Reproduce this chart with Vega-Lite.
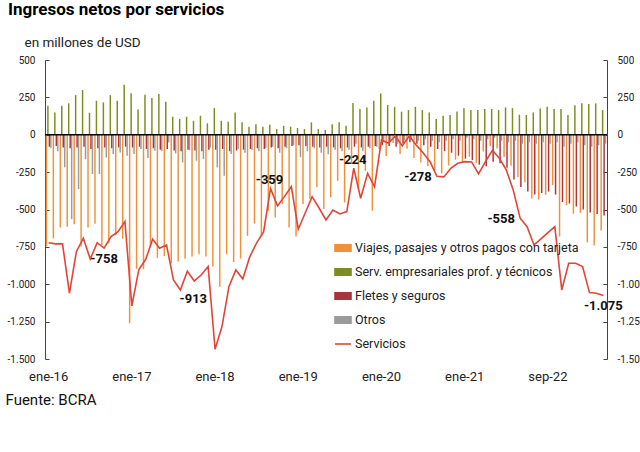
{
 "$schema": "https://vega.github.io/schema/vega-lite/v6.json",
 "width": 562, "height": 299,
 "autosize": {"type": "none"},
 "padding": {"left": 45, "top": 60, "right": 33, "bottom": 93},
 "background": "white",
 "title": {"text": "Ingresos netos por servicios", "anchor": "start", "frame": "group", "dx": -37, "fontSize": 17, "font": "Roboto", "fontWeight": "bold", "color": "#000", "offset": 16},
 "config": {
  "locale": {"number": {"decimal": ",", "thousands": ".", "grouping": [3], "currency": ["$", ""], "minus": "-"}},
  "view": {"stroke": null},
  "font": "Roboto",
  "axisX": {"domain": false, "ticks": false, "labelAngle": 0, "labelBaseline": "top", "labelAlign": "center", "labelFont": "Roboto", "labelFontSize": 13, "labelColor": "#222", "labelPadding": 11,
    "titleX": -40, "titleY": 45, "titleAlign": "left", "titleAnchor": "start", "titleBaseline": "alphabetic",
    "titleFont": "Roboto", "titleFontSize": 15, "titleFontWeight": "normal", "titleColor": "#111"}
 },
 "datasets": {"d": [
  {"mes":"ene-16","viajes":-746,"serv":194,"fletes":-80,"otros":-90,"servicios":-722},
  {"mes":"feb-16","viajes":-694,"serv":149,"fletes":-75,"otros":-110,"servicios":-730},
  {"mes":"mar-16","viajes":-621,"serv":194,"fletes":-85,"otros":-218,"servicios":-730},
  {"mes":"abr-16","viajes":-616,"serv":210,"fletes":-90,"otros":-564,"servicios":-1060},
  {"mes":"may-16","viajes":-599,"serv":265,"fletes":-85,"otros":-363,"servicios":-782},
  {"mes":"jun-16","viajes":-748,"serv":299,"fletes":-80,"otros":-163,"servicios":-692},
  {"mes":"jul-16","viajes":-620,"serv":147,"fletes":-95,"otros":-263,"servicios":-831},
  {"mes":"ago-16","viajes":-596,"serv":227,"fletes":-90,"otros":-263,"servicios":-722},
  {"mes":"sep-16","viajes":-737,"serv":216,"fletes":-85,"otros":-152,"servicios":-758},
  {"mes":"oct-16","viajes":-727,"serv":265,"fletes":-90,"otros":-129,"servicios":-681},
  {"mes":"nov-16","viajes":-672,"serv":227,"fletes":-85,"otros":-118,"servicios":-648},
  {"mes":"dic-16","viajes":-696,"serv":335,"fletes":-80,"otros":-140,"servicios":-581},
  {"mes":"ene-17","viajes":-1260,"serv":277,"fletes":-85,"otros":-129,"servicios":-1145},
  {"mes":"feb-17","viajes":-897,"serv":169,"fletes":-80,"otros":-96,"servicios":-904},
  {"mes":"mar-17","viajes":-900,"serv":268,"fletes":-95,"otros":-156,"servicios":-833},
  {"mes":"abr-17","viajes":-747,"serv":245,"fletes":-90,"otros":-107,"servicios":-699},
  {"mes":"may-17","viajes":-824,"serv":272,"fletes":-100,"otros":-107,"servicios":-759},
  {"mes":"jun-17","viajes":-812,"serv":221,"fletes":-95,"otros":-51,"servicios":-737},
  {"mes":"jul-17","viajes":-861,"serv":120,"fletes":-105,"otros":-125,"servicios":-971},
  {"mes":"ago-17","viajes":-848,"serv":105,"fletes":-110,"otros":-185,"servicios":-1038},
  {"mes":"sep-17","viajes":-830,"serv":120,"fletes":-100,"otros":-103,"servicios":-913},
  {"mes":"oct-17","viajes":-815,"serv":94,"fletes":-105,"otros":-174,"servicios":-978},
  {"mes":"nov-17","viajes":-800,"serv":127,"fletes":-110,"otros":-163,"servicios":-938},
  {"mes":"dic-17","viajes":-815,"serv":76,"fletes":-100,"otros":-85,"servicios":-882},
  {"mes":"ene-18","viajes":-882,"serv":178,"fletes":-100,"otros":-218,"servicios":-1435},
  {"mes":"feb-18","viajes":-1016,"serv":94,"fletes":-95,"otros":-274,"servicios":-1283},
  {"mes":"mar-18","viajes":-800,"serv":87,"fletes":-110,"otros":-129,"servicios":-1016},
  {"mes":"abr-18","viajes":-852,"serv":149,"fletes":-105,"otros":-96,"servicios":-904},
  {"mes":"may-18","viajes":-828,"serv":83,"fletes":-100,"otros":-120,"servicios":-965},
  {"mes":"jun-18","viajes":-676,"serv":54,"fletes":-95,"otros":-100,"servicios":-817},
  {"mes":"jul-18","viajes":-594,"serv":71,"fletes":-90,"otros":-110,"servicios":-723},
  {"mes":"ago-18","viajes":-680,"serv":54,"fletes":-95,"otros":-90,"servicios":-650},
  {"mes":"sep-18","viajes":-508,"serv":67,"fletes":-85,"otros":-80,"servicios":-359},
  {"mes":"oct-18","viajes":-553,"serv":38,"fletes":-90,"otros":-120,"servicios":-476},
  {"mes":"nov-18","viajes":-464,"serv":60,"fletes":-80,"otros":-90,"servicios":-414},
  {"mes":"dic-18","viajes":-620,"serv":54,"fletes":-75,"otros":-70,"servicios":-347},
  {"mes":"ene-19","viajes":-680,"serv":45,"fletes":-70,"otros":-150,"servicios":-632},
  {"mes":"feb-19","viajes":-464,"serv":38,"fletes":-75,"otros":-110,"servicios":-523},
  {"mes":"mar-19","viajes":-430,"serv":83,"fletes":-80,"otros":-90,"servicios":-414},
  {"mes":"abr-19","viajes":-352,"serv":38,"fletes":-85,"otros":-120,"servicios":-490},
  {"mes":"may-19","viajes":-497,"serv":31,"fletes":-80,"otros":-130,"servicios":-570},
  {"mes":"jun-19","viajes":-419,"serv":71,"fletes":-85,"otros":-100,"servicios":-503},
  {"mes":"jul-19","viajes":-308,"serv":83,"fletes":-90,"otros":-110,"servicios":-530},
  {"mes":"ago-19","viajes":-453,"serv":60,"fletes":-85,"otros":-100,"servicios":-514},
  {"mes":"sep-19","viajes":-196,"serv":212,"fletes":-80,"otros":-60,"servicios":-224},
  {"mes":"oct-19","viajes":-363,"serv":172,"fletes":-85,"otros":-110,"servicios":-425},
  {"mes":"nov-19","viajes":-241,"serv":183,"fletes":-80,"otros":-90,"servicios":-258},
  {"mes":"dic-19","viajes":-508,"serv":227,"fletes":-75,"otros":-80,"servicios":-347},
  {"mes":"ene-20","viajes":-96,"serv":276,"fletes":-70,"otros":-50,"servicios":-35},
  {"mes":"feb-20","viajes":-142,"serv":200,"fletes":-75,"otros":-40,"servicios":-57},
  {"mes":"mar-20","viajes":-55,"serv":187,"fletes":-80,"otros":-60,"servicios":-8},
  {"mes":"abr-20","viajes":-129,"serv":154,"fletes":-60,"otros":-40,"servicios":-75},
  {"mes":"may-20","viajes":-93,"serv":165,"fletes":-50,"otros":-30,"servicios":-8},
  {"mes":"jun-20","viajes":-155,"serv":187,"fletes":-60,"otros":-40,"servicios":-68},
  {"mes":"jul-20","viajes":-185,"serv":165,"fletes":-70,"otros":-30,"servicios":-120},
  {"mes":"ago-20","viajes":-209,"serv":149,"fletes":-80,"otros":-40,"servicios":-180},
  {"mes":"sep-20","viajes":-238,"serv":105,"fletes":-95,"otros":-50,"servicios":-278},
  {"mes":"oct-20","viajes":-259,"serv":127,"fletes":-110,"otros":-40,"servicios":-282},
  {"mes":"nov-20","viajes":-206,"serv":132,"fletes":-120,"otros":-30,"servicios":-224},
  {"mes":"dic-20","viajes":-167,"serv":156,"fletes":-140,"otros":-40,"servicios":-191},
  {"mes":"ene-21","viajes":-178,"serv":178,"fletes":-160,"otros":-20,"servicios":-180},
  {"mes":"feb-21","viajes":-147,"serv":165,"fletes":-170,"otros":-30,"servicios":-182},
  {"mes":"mar-21","viajes":-187,"serv":165,"fletes":-200,"otros":-40,"servicios":-262},
  {"mes":"abr-21","viajes":-112,"serv":172,"fletes":-210,"otros":-30,"servicios":-180},
  {"mes":"may-21","viajes":-76,"serv":172,"fletes":-180,"otros":-20,"servicios":-104},
  {"mes":"jun-21","viajes":-92,"serv":165,"fletes":-190,"otros":-40,"servicios":-157},
  {"mes":"jul-21","viajes":-148,"serv":183,"fletes":-220,"otros":-50,"servicios":-235},
  {"mes":"ago-21","viajes":-207,"serv":178,"fletes":-300,"otros":-40,"servicios":-369},
  {"mes":"sep-21","viajes":-282,"serv":134,"fletes":-350,"otros":-60,"servicios":-558},
  {"mes":"oct-21","viajes":-317,"serv":132,"fletes":-380,"otros":-50,"servicios":-615},
  {"mes":"nov-21","viajes":-426,"serv":149,"fletes":-400,"otros":-60,"servicios":-737},
  {"mes":"dic-21","viajes":-433,"serv":176,"fletes":-390,"otros":-50,"servicios":-697},
  {"mes":"ene-22","viajes":-402,"serv":187,"fletes":-380,"otros":-60,"servicios":-655},
  {"mes":"feb-22","viajes":-337,"serv":172,"fletes":-400,"otros":-50,"servicios":-615},
  {"mes":"mar-22","viajes":-680,"serv":172,"fletes":-450,"otros":-80,"servicios":-1038},
  {"mes":"abr-22","viajes":-472,"serv":132,"fletes":-460,"otros":-60,"servicios":-860},
  {"mes":"may-22","viajes":-528,"serv":198,"fletes":-480,"otros":-50,"servicios":-860},
  {"mes":"jun-22","viajes":-522,"serv":210,"fletes":-500,"otros":-70,"servicios":-882},
  {"mes":"jul-22","viajes":-720,"serv":205,"fletes":-520,"otros":-80,"servicios":-1056},
  {"mes":"ago-22","viajes":-740,"serv":210,"fletes":-530,"otros":-70,"servicios":-1060},
  {"mes":"sep-22","viajes":-640,"serv":165,"fletes":-540,"otros":-60,"servicios":-1075}
 ]},
 "data": {"name": "d"},
 "transform": [{"fold": ["viajes", "serv", "fletes", "otros", "servicios"], "as": ["serie", "valor"]}],
 "layer": [
  {
   "transform": [{"filter": "datum.serie != 'servicios'"}],
   "mark": {"type": "bar"},
   "encoding": {
    "x": {"field": "mes", "type": "ordinal", "sort": null,
      "scale": {"paddingInner": 0.15, "paddingOuter": 0.1},
      "axis": {"values": ["ene-16","ene-17","ene-18","ene-19","ene-20","ene-21","ene-22"], "labelExpr": "datum.value == 'ene-22' ? 'sep-22' : datum.value", "title": "Fuente: BCRA"}},
    "xOffset": {"field": "serie", "type": "nominal", "scale": {"domain": ["viajes", "serv", "fletes", "otros"], "paddingInner": 0, "paddingOuter": 0}},
    "y": {"field": "valor", "type": "quantitative",
      "scale": {"domain": [-1500, 500], "nice": false},
      "axis": {"orient": "left", "values": [-1500,-1250,-1000,-750,-500,-250,0,250,500], "format": ",.0f", "grid": false,
        "title": "en millones de USD", "titleAngle": 0, "titleAlign": "left", "titleAnchor": "start", "titleBaseline": "alphabetic", "titleX": -21, "titleY": -14,
        "titleFont": "Roboto", "titleFontSize": 13.5, "titleFontWeight": "normal", "titleColor": "#222",
        "labelFont": "Roboto", "labelFontSize": 10, "labelColor": "#222", "labelPadding": 14,
        "domainColor": "#444", "tickColor": "#444", "tickSize": -4}},
    "color": {"field": "serie", "type": "nominal",
      "scale": {"domain": ["viajes", "serv", "fletes", "otros", "servicios"], "range": ["#F0913A", "#7E8C22", "#A8343C", "#9B9B9B", "#E0453A"]},
      "legend": {"orient": "none", "legendX": 289, "legendY": 179, "title": null, "padding": 0,
        "labelFont": "Roboto", "labelFontSize": 12.5, "labelColor": "#222", "labelOffset": 3, "labelLimit": 400, "symbolSize": 256, "rowPadding": 8,
        "labelExpr": "{'viajes': 'Viajes, pasajes y otros pagos con tarjeta', 'serv': 'Serv. empresariales prof. y técnicos', 'fletes': 'Fletes y seguros', 'otros': 'Otros', 'servicios': 'Servicios'}[datum.value]",
        "encode": {"symbols": {"update": {
          "shape": {"signal": "datum.value == 'servicios' ? 'stroke' : 'M-1,-0.4H1V0.4H-1Z'"},
          "fill": {"signal": "datum.value == 'servicios' ? 'transparent' : scale('color', datum.value)"},
          "stroke": {"signal": "datum.value == 'servicios' ? scale('color', datum.value) : 'transparent'"},
          "strokeWidth": {"value": 1.6},
          "opacity": {"value": 1}
        }}}}}
   }
  },
  {
   "data": {"values": [{}]},
   "mark": {"type": "rule", "color": "#000", "strokeWidth": 1.5},
   "encoding": {"y": {"datum": 0, "type": "quantitative", "axis": null}}
  },
  {
   "transform": [{"filter": "datum.serie == 'servicios'"}],
   "mark": {"type": "line", "strokeWidth": 1.6},
   "encoding": {
    "x": {"field": "mes", "type": "ordinal", "sort": null,
      "axis": {"values": ["ene-16","ene-17","ene-18","ene-19","ene-20","ene-21","ene-22"], "labelExpr": "datum.value == 'ene-22' ? 'sep-22' : datum.value", "title": "Fuente: BCRA"}},
    "y": {"field": "valor", "type": "quantitative",
      "axis": {"orient": "right", "values": [-1500,-1250,-1000,-750,-500,-250,0,250,500], "format": ",.0f", "grid": false, "title": null,
        "labelFont": "Roboto", "labelFontSize": 10, "labelColor": "#222", "labelPadding": 14,
        "domainColor": "#444", "tickColor": "#444", "tickSize": -4}},
    "color": {"field": "serie", "type": "nominal"}
   }
  },
  {
   "transform": [{"filter": "datum.serie == 'servicios' && (datum.mes == 'sep-18' || datum.mes == 'sep-19')"}],
   "mark": {"type": "text", "font": "Roboto", "fontSize": 13, "fontWeight": "bold", "color": "#111", "baseline": "middle", "dx": -1, "dy": -8},
   "encoding": {"x": {"field": "mes", "type": "ordinal", "sort": null,
      "axis": {"values": ["ene-16","ene-17","ene-18","ene-19","ene-20","ene-21","ene-22"], "labelExpr": "datum.value == 'ene-22' ? 'sep-22' : datum.value", "title": "Fuente: BCRA"}},
    "y": {"field": "valor", "type": "quantitative", "axis": null}, "text": {"field": "valor", "type": "quantitative", "format": ","}}
  },
  {
   "transform": [{"filter": "datum.serie == 'servicios' && (datum.mes == 'sep-20' || datum.mes == 'sep-21')"}],
   "mark": {"type": "text", "font": "Roboto", "fontSize": 13, "fontWeight": "bold", "color": "#111", "baseline": "middle", "dx": -19, "dy": 1},
   "encoding": {"x": {"field": "mes", "type": "ordinal", "sort": null,
      "axis": {"values": ["ene-16","ene-17","ene-18","ene-19","ene-20","ene-21","ene-22"], "labelExpr": "datum.value == 'ene-22' ? 'sep-22' : datum.value", "title": "Fuente: BCRA"}},
    "y": {"field": "valor", "type": "quantitative", "axis": null}, "text": {"field": "valor", "type": "quantitative", "format": ","}}
  },
  {
   "transform": [{"filter": "datum.serie == 'servicios' && (datum.mes == 'sep-16' || datum.mes == 'sep-22')"}],
   "mark": {"type": "text", "font": "Roboto", "fontSize": 13, "fontWeight": "bold", "color": "#111", "baseline": "middle", "dx": 0, "dy": 11},
   "encoding": {"x": {"field": "mes", "type": "ordinal", "sort": null,
      "axis": {"values": ["ene-16","ene-17","ene-18","ene-19","ene-20","ene-21","ene-22"], "labelExpr": "datum.value == 'ene-22' ? 'sep-22' : datum.value", "title": "Fuente: BCRA"}},
    "y": {"field": "valor", "type": "quantitative", "axis": null}, "text": {"field": "valor", "type": "quantitative", "format": ","}}
  },
  {
   "transform": [{"filter": "datum.serie == 'servicios' && datum.mes == 'sep-17'"}],
   "mark": {"type": "text", "font": "Roboto", "fontSize": 13, "fontWeight": "bold", "color": "#111", "baseline": "middle", "dx": 6, "dy": 28},
   "encoding": {"x": {"field": "mes", "type": "ordinal", "sort": null,
      "axis": {"values": ["ene-16","ene-17","ene-18","ene-19","ene-20","ene-21","ene-22"], "labelExpr": "datum.value == 'ene-22' ? 'sep-22' : datum.value", "title": "Fuente: BCRA"}},
    "y": {"field": "valor", "type": "quantitative", "axis": null}, "text": {"field": "valor", "type": "quantitative", "format": ","}}
  }
 ],
 "resolve": {"axis": {"y": "independent"}}
}
